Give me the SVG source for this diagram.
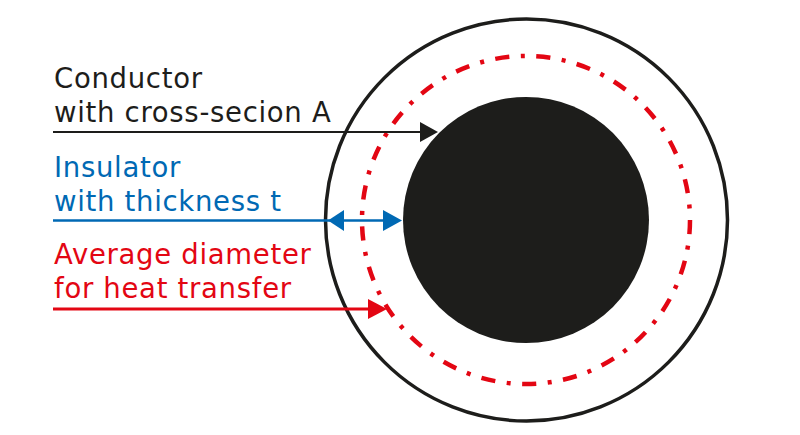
<svg xmlns="http://www.w3.org/2000/svg" width="800" height="435" viewBox="0 0 800 435">
<style>
  text { font-family: "DejaVu Sans", Verdana, sans-serif; font-size: 27.5px; letter-spacing: 0.7px; }
  .k { fill: #1d1d1b; }
  .b { fill: #0069b4; }
  .r { fill: #e30613; }
</style>
<rect width="800" height="435" fill="#ffffff"/>
<g id="cable">
  <circle id="outer-insulation" cx="526.5" cy="220" r="201" fill="none" stroke="#1d1d1b" stroke-width="3.5"/>
  <circle id="average-diameter" cx="526" cy="220" r="164" fill="none" stroke="#e30613" stroke-width="4.5" stroke-dasharray="14.2 11.5 4 11.5"/>
  <circle id="conductor" cx="526" cy="220" r="123" fill="#1d1d1b"/>
</g>
<g id="label-conductor">
  <text class="k" x="54" y="88">Conductor</text>
  <text class="k" x="54" y="122">with cross-secion A</text>
</g>
<g id="label-insulator">
  <text class="b" x="54" y="177">Insulator</text>
  <text class="b" x="54" y="211">with thickness t</text>
</g>
<g id="label-average">
  <text class="r" x="54" y="264">Average diameter</text>
  <text class="r" x="54" y="298">for heat transfer</text>
</g>
<g id="connectors">
  <line x1="53" y1="132" x2="422" y2="132" stroke="#1d1d1b" stroke-width="2"/>
  <polygon points="420,122 438,132 420,142" fill="#1d1d1b"/>
  <line x1="53" y1="220.5" x2="386" y2="220.5" stroke="#0069b4" stroke-width="2.5"/>
  <polygon points="328,220.5 344,210 344,231" fill="#0069b4"/>
  <polygon points="402,220.5 383,210 383,231" fill="#0069b4"/>
  <line x1="53" y1="309" x2="370" y2="309" stroke="#e30613" stroke-width="3"/>
  <polygon points="368,299 387,309 368,319" fill="#e30613"/>
</g>
</svg>
